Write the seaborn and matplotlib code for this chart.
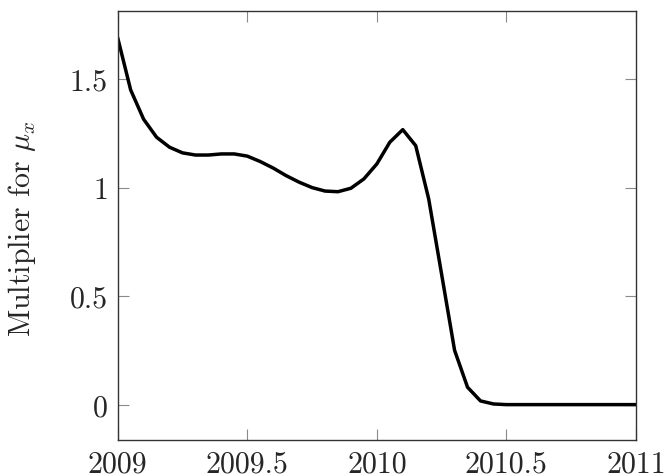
import matplotlib
matplotlib.use("Agg")
import matplotlib.pyplot as plt
import seaborn as sns
import pandas as pd

# Data
years = [2009.00, 2009.05, 2009.10, 2009.15, 2009.20, 2009.25, 2009.30, 2009.35,
         2009.40, 2009.45, 2009.50, 2009.55, 2009.60, 2009.65, 2009.70, 2009.75,
         2009.80, 2009.85, 2009.90, 2009.95, 2010.00, 2010.05, 2010.10, 2010.15,
         2010.20, 2010.25, 2010.30, 2010.35, 2010.40, 2010.45, 2010.50, 2010.55,
         2010.60, 2010.65, 2010.70, 2010.75, 2010.80, 2010.85, 2010.90, 2010.95,
         2011.00]
multiplier = [1.69, 1.45, 1.315, 1.232, 1.186, 1.16, 1.15, 1.15,
              1.155, 1.155, 1.145, 1.12, 1.09, 1.055, 1.025, 1.0,
              0.984, 0.981, 0.997, 1.040, 1.109, 1.209, 1.267, 1.193,
              0.948, 0.60, 0.25, 0.08, 0.017, 0.003, 0.0, 0.0,
              0.0, 0.0, 0.0, 0.0, 0.0, 0.0, 0.0, 0.0,
              0.0]
x_ticks = [2009, 2009.5, 2010, 2010.5, 2011]
x_tick_labels = ["2009", "2009.5", "2010", "2010.5", "2011"]
y_ticks = [0, 0.5, 1, 1.5]
y_tick_labels = ["0", "0.5", "1", "1.5"]
y_label = r"Multiplier for $\mu_x$"

sns.set_style("white")
plt.rcParams["font.family"] = ["serif"]
plt.rcParams["font.serif"] = ["cmr10", "DejaVu Serif"]
plt.rcParams["mathtext.fontset"] = "cm"
plt.rcParams["axes.formatter.use_mathtext"] = True

df = pd.DataFrame({"year": years, "value": multiplier})

fig = plt.figure(figsize=(6.65, 4.77), dpi=100)
ax = fig.add_axes([117.7 / 665, 1 - 441 / 477, (636 - 117.7) / 665, (441 - 11.7) / 477])

sns.lineplot(data=df, x="year", y="value", ax=ax, color="black", linewidth=2.5,
             estimator=None, sort=False)

ax.set_xlim(2009, 2011)
ax.set_ylim(-0.163, 1.815)
ax.set_xticks(x_ticks)
ax.set_xticklabels(x_tick_labels)
ax.set_yticks(y_ticks)
ax.set_yticklabels(y_tick_labels)
ax.set_xlabel("")
ax.set_ylabel(y_label, fontsize=21.5)
ax.yaxis.set_label_coords(-0.154, 0.495)

ax.tick_params(axis="both", which="major", direction="in", length=8, width=0.8,
               color="#8a8a8a", labelsize=21.5, pad=7,
               top=True, right=True, bottom=True, left=True)

for s in ax.spines.values():
    s.set_visible(True)
    s.set_color("#333333")
    s.set_linewidth(1.0)

fig.savefig("out.png", dpi=100)
